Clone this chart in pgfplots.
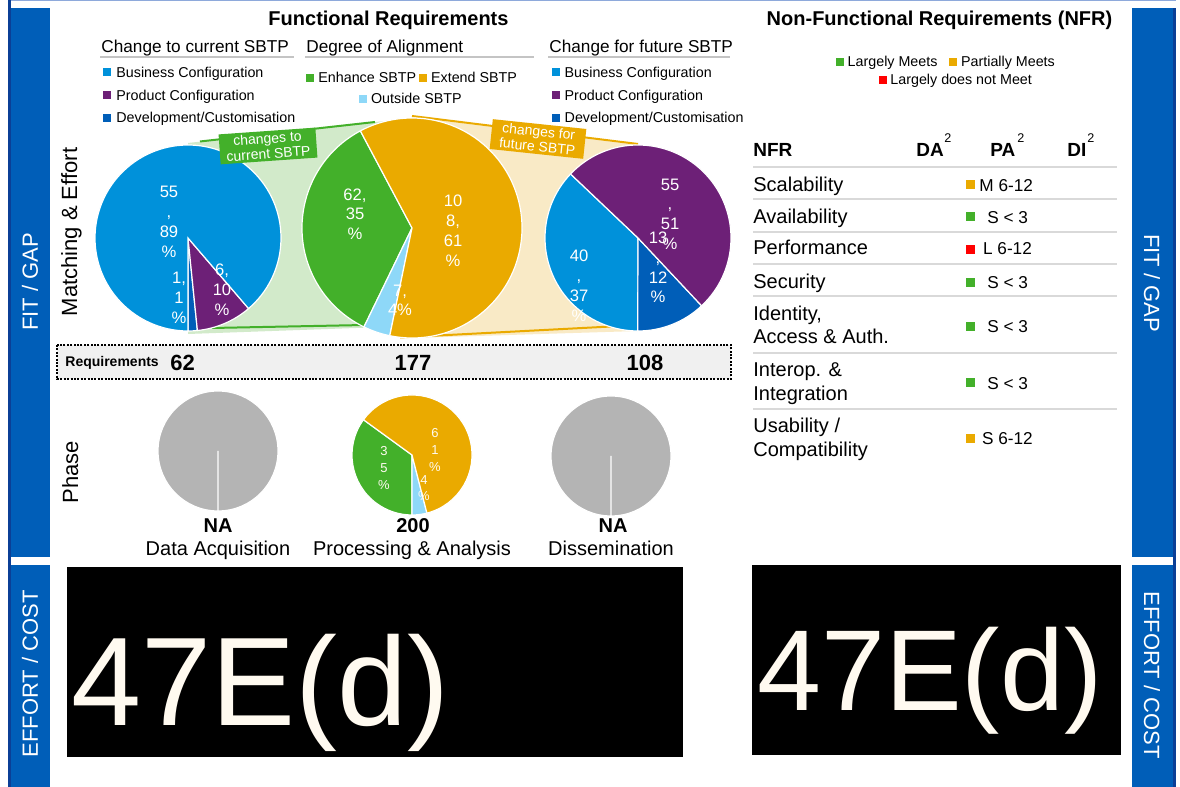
\documentclass[border=0pt]{standalone}
\usepackage{pgfplots}
\pgfplotsset{compat=1.18}
\usepackage{pgfplotstable}
\usepackage{fontspec}
\setmainfont{Liberation Sans}

\definecolor{busblue}{HTML}{0091DA}
\definecolor{prodpurple}{HTML}{6D2077}
\definecolor{devblue}{HTML}{005EB8}
\definecolor{enhgreen}{HTML}{43B02A}
\definecolor{extorange}{HTML}{EAAA00}
\definecolor{outblue}{HTML}{8ED8F8}
\definecolor{nagray}{HTML}{B4B4B4}
\definecolor{barblue}{HTML}{005EB8}
\definecolor{baredge}{HTML}{0B3F96}
\definecolor{topline}{HTML}{8EA9DB}
\definecolor{lightgreen}{HTML}{D2EACA}
\definecolor{lightorange}{HTML}{F9EAC6}
\definecolor{cream}{HTML}{FFFAF0}
\definecolor{rulegray}{HTML}{C4C4C4}
\definecolor{rowgray}{HTML}{D9D9D9}
\definecolor{boxgray}{HTML}{F0F0F0}
\definecolor{nfrred}{HTML}{FF0000}

% pie slices: count, counts before it, colour index
% c: 0 business, 1 product, 2 development, 3 enhance, 4 extend, 5 outside, 6 n/a
\pgfplotstableread{
x   y   n   before c
188 238 1   0      2
188 238 6   1      1
188 238 55  7      0
}\tabcurrent

\pgfplotstableread{
x   y   n   before c
412 228 62  0      3
412 228 7   62     5
412 228 108 69     4
}\tabalign

\pgfplotstableread{
x   y   n   before c
638 238 40  0      0
638 238 13  40     2
638 238 55  53     1
}\tabfuture

\pgfplotstableread{
x   y   n   before c
412 455 70  0      3
412 455 8   70     5
412 455 122 78     4
}\tabphase

\pgfplotstableread{
x   y   n before c
218 451 1 0      6
611 456 1 0      6
}\tabna

% NFR status per row (x = marker column, y = row centre)
\pgfplotstableread{
x   y
970 216.7
970 282
970 326.7
970 382.7
}\nfrgreen
\pgfplotstableread{
x   y
970 184
970 438
}\nfrorange
\pgfplotstableread{
x   y
970 249
}\nfrred

\pgfdeclareplotmark{wedge}{%
  \pgfpathmoveto{\pgfpointorigin}%
  \pgfpathlineto{\pgfpointpolar{\angA}{\rad bp}}%
  \pgfpatharc{\angA}{\angB}{\rad bp}%
  \pgfpathclose
  \pgfusepath{fill,stroke}%
}

\pgfplotsset{
  pieslices/.style n args={3}{% base angle, total, radius (bp)
    scatter, only marks, mark=wedge,
    visualization depends on={\thisrow{n}\as\pn},
    visualization depends on={\thisrow{before}\as\pbefore},
    visualization depends on={\thisrow{c}\as\pcidx},
    scatter/@pre marker code/.code={%
      \begingroup
      \pgfkeys{/pgf/fpu=true,/pgf/fpu/output format=fixed}%
      \pgfmathparse{#1+360*\pbefore/#2}\xdef\angA{\pgfmathresult}%
      \pgfmathparse{#1+360*(\pbefore+\pn)/#2}\xdef\angB{\pgfmathresult}%
      \pgfmathparse{\pcidx}\xdef\pci{\pgfmathresult}%
      \endgroup
      \begingroup
      \pgfkeys{/pgf/fpu=false}%
      \pgfmathtruncatemacro\tmpci{\pci}\xdef\ci{\tmpci}%
      \endgroup
      \def\rad{#3}%
      \pgfscope
      \ifcase\ci\relax
        \pgfsetfillcolor{busblue}\or
        \pgfsetfillcolor{prodpurple}\or
        \pgfsetfillcolor{devblue}\or
        \pgfsetfillcolor{enhgreen}\or
        \pgfsetfillcolor{extorange}\or
        \pgfsetfillcolor{outblue}\else
        \pgfsetfillcolor{nagray}\fi
      \pgfsetstrokecolor{white}%
      \pgfsetlinewidth{0.6bp}%
    },
    scatter/@post marker code/.code={\endpgfscope},
  },
}

\tikzset{
  ttl/.style={anchor=base, inner sep=0pt, font=\bfseries\fontsize{10bp}{12bp}\selectfont},
  sub/.style={anchor=base west, inner sep=0pt, font=\fontsize{8.6bp}{10bp}\selectfont},
  lbl/.style={anchor=base west, inner sep=0pt, font=\fontsize{7.15bp}{8.6bp}\selectfont},
  row/.style={anchor=base west, inner sep=0pt, font=\fontsize{10bp}{12bp}\selectfont},
  stat/.style={anchor=base west, inner sep=0pt, font=\fontsize{8.6bp}{10bp}\selectfont},
  pl/.style={anchor=base, inner sep=0pt, text=white, font=\fontsize{8.3bp}{10bp}\selectfont},
  spl/.style={anchor=base, inner sep=0pt, text=cream, font=\fontsize{6.5bp}{8bp}\selectfont},
  side/.style={text=white, inner sep=0pt, font=\fontsize{11bp}{13bp}\selectfont},
  ylab/.style={anchor=base, inner sep=0pt, rotate=90, font=\fontsize{11bp}{13bp}\selectfont},
  bot/.style={anchor=base, inner sep=0pt, font=\fontsize{10bp}{12bp}\selectfont},
}

\begin{document}
\begin{tikzpicture}
\begin{axis}[
    scale only axis,
    width=590bp, height=393.5bp,
    xmin=0, xmax=1180, ymin=0, ymax=787,
    y dir=reverse,
    hide axis,
    clip=false,
    set layers,
]
% background and side bars
\fill[white] (axis cs:0,0) rectangle (axis cs:1180,787);
\fill[topline] (axis cs:8,0) rectangle (axis cs:1176,1.5);
\fill[baredge] (axis cs:7.5,0) rectangle (axis cs:10.5,787);
\fill[barblue] (axis cs:10.5,8) rectangle (axis cs:50,557.5);
\fill[barblue] (axis cs:10.5,565) rectangle (axis cs:50,787);
\fill[barblue] (axis cs:1132,8) rectangle (axis cs:1173,557.5);
\fill[barblue] (axis cs:1132,565) rectangle (axis cs:1173,787);
\fill[baredge] (axis cs:1173,8) rectangle (axis cs:1176,787);
\node[side, rotate=90] at (axis cs:30,282) {FIT / GAP};
\node[side, rotate=90] at (axis cs:30,674) {EFFORT / COST};
\node[side, rotate=-90] at (axis cs:1152,283) {FIT / GAP};
\node[side, rotate=-90] at (axis cs:1152,675) {EFFORT / COST};

% titles
\node[ttl] at (axis cs:388.5,26) {Functional Requirements};
\node[ttl] at (axis cs:939.5,26) {Non-Functional Requirements (NFR)};
\node[sub] at (axis cs:101,53) {Change to current SBTP};
\node[sub] at (axis cs:306,53) {Degree of Alignment};
\node[sub] at (axis cs:549,53) {Change for future SBTP};
\draw[rulegray, line width=1bp] (axis cs:100,57.5) -- (axis cs:294,57.5);
\draw[rulegray, line width=1bp] (axis cs:305,57.5) -- (axis cs:534,57.5);
\draw[rulegray, line width=1bp] (axis cs:548,57.5) -- (axis cs:730,57.5);

% legends
\fill[busblue] (axis cs:103,68.5) rectangle (axis cs:111,76.5);
\node[lbl] at (axis cs:116,78) {Business Configuration};
\fill[prodpurple] (axis cs:103,91) rectangle (axis cs:111,99);
\node[lbl] at (axis cs:116,100.5) {Product Configuration};
\fill[devblue] (axis cs:103,114) rectangle (axis cs:111,122);
\node[lbl] at (axis cs:116,122.7) {Development/Customisation};

\fill[enhgreen] (axis cs:305.7,74.5) rectangle (axis cs:313.7,82.5);
\node[lbl] at (axis cs:318,82.7) {Enhance SBTP};
\fill[extorange] (axis cs:419,74.5) rectangle (axis cs:427,82.5);
\node[lbl] at (axis cs:430.7,82.7) {Extend SBTP};
\fill[outblue] (axis cs:359,95) rectangle (axis cs:367,103);
\node[lbl] at (axis cs:370.7,103.3) {Outside SBTP};

\fill[busblue] (axis cs:552,68.5) rectangle (axis cs:560,76.5);
\node[lbl] at (axis cs:564.3,77.5) {Business Configuration};
\fill[prodpurple] (axis cs:552,91) rectangle (axis cs:560,99);
\node[lbl] at (axis cs:564.3,100.7) {Product Configuration};
\fill[devblue] (axis cs:552,114) rectangle (axis cs:560,122);
\node[lbl] at (axis cs:564.3,122.7) {Development/Customisation};

\fill[enhgreen] (axis cs:836,58) rectangle (axis cs:844,66);
\node[lbl] at (axis cs:847.3,66.7) {Largely Meets};
\fill[extorange] (axis cs:949.3,58) rectangle (axis cs:957.3,66);
\node[lbl] at (axis cs:960.7,66.7) {Partially Meets};
\fill[nfrred] (axis cs:878.5,76.5) rectangle (axis cs:886.5,84.5);
\node[lbl] at (axis cs:890,85) {Largely does not Meet};

% bands between pies
\fill[lightgreen] (axis cs:188,143) -- (axis cs:412,118) -- (axis cs:412,326) -- (axis cs:188,334) -- cycle;
\draw[enhgreen, line width=1bp] (axis cs:200,141.5) -- (axis cs:375,122);
\draw[enhgreen, line width=1bp] (axis cs:212,328) -- (axis cs:365,325);
\fill[lightorange] (axis cs:412,117) -- (axis cs:638,145) -- (axis cs:638,331) -- (axis cs:412,338) -- cycle;
\draw[extorange, line width=1bp] (axis cs:412,116) -- (axis cs:638,144);
\draw[extorange, line width=1bp] (axis cs:400,337.5) -- (axis cs:640,325);

% pies
\addplot[pieslices={-90}{62}{46.5}] table {\tabcurrent};
\addplot[pieslices={118}{177}{55}] table {\tabalign};
\addplot[pieslices={136.5}{108}{46.5}] table {\tabfuture};
\addplot[pieslices={144}{200}{30}] table {\tabphase};
\addplot[pieslices={-90}{1}{30}] table {\tabna};

\begin{pgfonlayer}{axis foreground}
% band labels
\node[fill=enhgreen, text=white, rotate=4, minimum width=48.5bp, minimum height=15bp,
      inner sep=0.5bp, align=center, font=\fontsize{7bp}{7.6bp}\selectfont]
      at (axis cs:268,146) {changes to\\current SBTP};
\node[fill=extorange, text=white, rotate=-6, minimum width=47bp, minimum height=15bp,
      inner sep=0.5bp, align=center, font=\fontsize{7bp}{7.6bp}\selectfont]
      at (axis cs:538,139) {changes for\\future SBTP};

% pie labels
\node[pl] at (axis cs:169,198) {55};
\node[pl] at (axis cs:169,218) {,};
\node[pl] at (axis cs:169,238) {89};
\node[pl] at (axis cs:169,258) {\%};
\node[pl] at (axis cs:179,284) {1,};
\node[pl] at (axis cs:179,304) {1};
\node[pl] at (axis cs:179,324) {\%};
\node[pl] at (axis cs:222,276) {6,};
\node[pl] at (axis cs:222,296) {10};
\node[pl] at (axis cs:222,316) {\%};

\node[pl] at (axis cs:355,201) {62,};
\node[pl] at (axis cs:355,220) {35};
\node[pl] at (axis cs:355,240) {\%};
\node[pl] at (axis cs:453,207) {10};
\node[pl] at (axis cs:453,227) {8,};
\node[pl] at (axis cs:453,247) {61};
\node[pl] at (axis cs:453,267) {\%};
\node[pl] at (axis cs:400,297) {7,};
\node[pl] at (axis cs:400,316) {4\%};

\node[pl] at (axis cs:670,191) {55};
\node[pl] at (axis cs:670,210) {,};
\node[pl] at (axis cs:670,230) {51};
\node[pl] at (axis cs:670,250) {\%};
\node[pl] at (axis cs:658,244) {13};
\node[pl] at (axis cs:658,264) {,};
\node[pl] at (axis cs:658,284) {12};
\node[pl] at (axis cs:658,303) {\%};
\node[pl] at (axis cs:579,262) {40};
\node[pl] at (axis cs:579,282) {,};
\node[pl] at (axis cs:579,302) {37};
\node[pl] at (axis cs:579,322) {\%};

\node[spl] at (axis cs:384,456) {3};
\node[spl] at (axis cs:384,473) {5};
\node[spl] at (axis cs:384,490) {\%};
\node[spl] at (axis cs:435,438) {6};
\node[spl] at (axis cs:435,455) {1};
\node[spl] at (axis cs:435,472) {\%};
\node[spl] at (axis cs:424,485) {4};
\node[spl] at (axis cs:424,501) {\%};
\end{pgfonlayer}

% axis-like side labels
\node[ylab] at (axis cs:77,232) {Matching \& Effort};
\node[ylab] at (axis cs:78,472) {Phase};

% requirements strip
\draw[black, fill=boxgray, line width=1bp, dash pattern=on 1bp off 0.7bp]
  (axis cs:57,345) rectangle (axis cs:731,379);
\node[anchor=base west, inner sep=0pt, font=\bfseries\fontsize{7bp}{8bp}\selectfont]
  at (axis cs:65,367) {Requirements};
\node[anchor=base west, inner sep=0pt, font=\bfseries\fontsize{11bp}{13bp}\selectfont]
  at (axis cs:170,371) {62};
\node[anchor=base, inner sep=0pt, font=\bfseries\fontsize{11bp}{13bp}\selectfont]
  at (axis cs:413,371) {177};
\node[anchor=base, inner sep=0pt, font=\bfseries\fontsize{11bp}{13bp}\selectfont]
  at (axis cs:645,371) {108};

% phase captions
\node[bot, font=\bfseries\fontsize{10bp}{12bp}\selectfont] at (axis cs:218,533) {NA};
\node[bot] at (axis cs:218,556) {Data Acquisition};
\node[bot, font=\bfseries\fontsize{10bp}{12bp}\selectfont] at (axis cs:413,533) {200};
\node[bot] at (axis cs:412,556) {Processing \& Analysis};
\node[bot, font=\bfseries\fontsize{10bp}{12bp}\selectfont] at (axis cs:613,533) {NA};
\node[bot] at (axis cs:611,556) {Dissemination};

% NFR table
\node[anchor=base west, inner sep=0pt, font=\bfseries\fontsize{9.5bp}{11bp}\selectfont] at (axis cs:753,157) {NFR};
\node[anchor=base west, inner sep=0pt, font=\bfseries\fontsize{9.5bp}{11bp}\selectfont] at (axis cs:916,157) {DA};
\node[anchor=base west, inner sep=0pt, font=\bfseries\fontsize{9.5bp}{11bp}\selectfont] at (axis cs:990,157) {PA};
\node[anchor=base west, inner sep=0pt, font=\bfseries\fontsize{9.5bp}{11bp}\selectfont] at (axis cs:1067,157) {DI};
\node[anchor=base west, inner sep=0pt, font=\fontsize{6.3bp}{7bp}\selectfont] at (axis cs:944,143) {2};
\node[anchor=base west, inner sep=0pt, font=\fontsize{6.3bp}{7bp}\selectfont] at (axis cs:1017,143) {2};
\node[anchor=base west, inner sep=0pt, font=\fontsize{6.3bp}{7bp}\selectfont] at (axis cs:1087,143) {2};
\draw[rowgray, line width=1bp] (axis cs:753,167.3) -- (axis cs:1117,167.3);
\draw[rowgray, line width=1bp] (axis cs:753,199.3) -- (axis cs:1117,199.3);
\draw[rowgray, line width=1bp] (axis cs:753,232) -- (axis cs:1117,232);
\draw[rowgray, line width=1bp] (axis cs:753,264.3) -- (axis cs:1117,264.3);
\draw[rowgray, line width=1bp] (axis cs:753,296.3) -- (axis cs:1117,296.3);
\draw[rowgray, line width=1bp] (axis cs:753,353) -- (axis cs:1117,353);
\draw[rowgray, line width=1bp] (axis cs:753,409.3) -- (axis cs:1117,409.3);
\node[row] at (axis cs:753,191.7) {Scalability};
\node[row] at (axis cs:753,224) {Availability};
\node[row] at (axis cs:753,255) {Performance};
\node[row] at (axis cs:753,288.3) {Security};
\node[row] at (axis cs:753,320.7) {Identity,};
\node[row] at (axis cs:753,343.3) {Access \& Auth.};
\node[row] at (axis cs:753,376.7) {Interop. \&};
\node[row] at (axis cs:753,401) {Integration};
\node[row] at (axis cs:753,432.7) {Usability /};
\node[row] at (axis cs:753,456.7) {Compatibility};

\addplot[only marks, mark=square*, mark size=2bp, color=enhgreen] table {\nfrgreen};
\addplot[only marks, mark=square*, mark size=2bp, color=extorange] table {\nfrorange};
\addplot[only marks, mark=square*, mark size=2bp, color=nfrred] table {\nfrred};
\node[stat] at (axis cs:979,191.7) {M 6-12};
\node[stat] at (axis cs:987,224) {S < 3};
\node[stat] at (axis cs:982.7,255) {L 6-12};
\node[stat] at (axis cs:987,288.3) {S < 3};
\node[stat] at (axis cs:987,332.3) {S < 3};
\node[stat] at (axis cs:987,389.3) {S < 3};
\node[stat] at (axis cs:981.7,445) {S 6-12};

% effort / cost boxes
\fill[black] (axis cs:66.5,567) rectangle (axis cs:683,757);
\fill[black] (axis cs:752,565) rectangle (axis cs:1121,755);
\node[anchor=base west, inner sep=0pt, text=cream, font=\fontsize{63bp}{63bp}\selectfont]
  at (axis cs:71,725) {47E(d)};
\node[anchor=base west, inner sep=0pt, text=cream, font=\fontsize{57.5bp}{57.5bp}\selectfont]
  at (axis cs:757,711) {47E(d)};
\end{axis}
\end{tikzpicture}
\end{document}
